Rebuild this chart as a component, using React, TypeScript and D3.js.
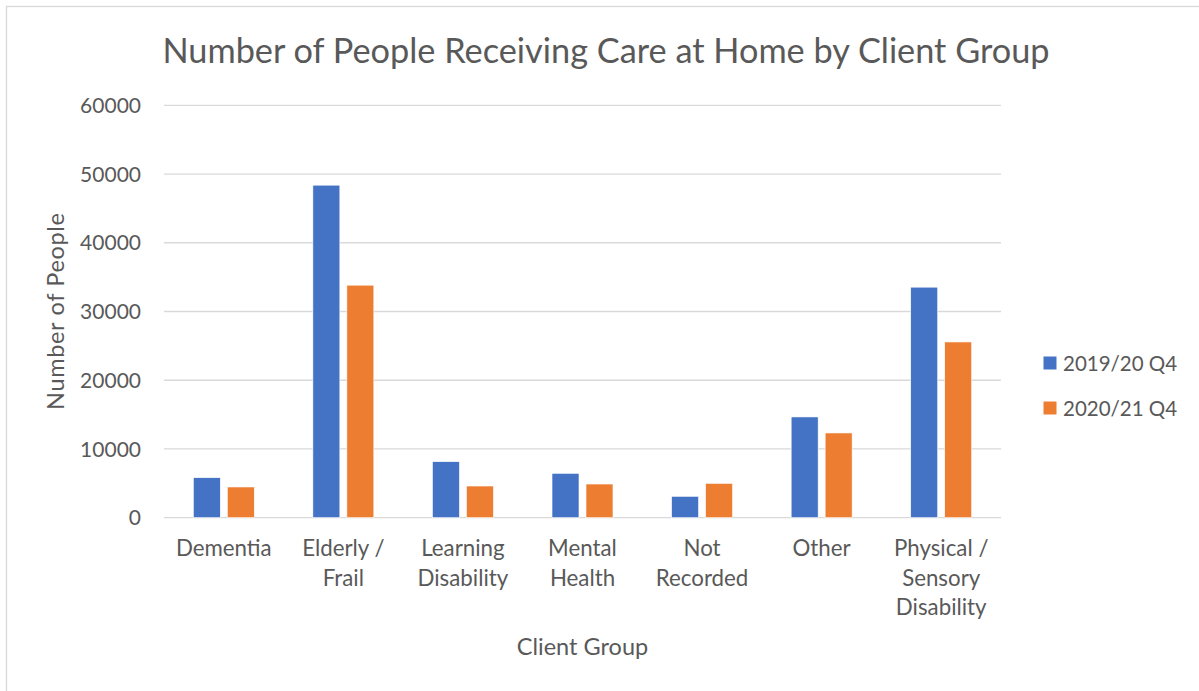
import React from "react";
import * as d3 from "d3";

const categories: string[][] = [
  ["Dementia"],
  ["Elderly /", "Frail"],
  ["Learning", "Disability"],
  ["Mental", "Health"],
  ["Not", "Recorded"],
  ["Other"],
  ["Physical /", "Sensory", "Disability"],
];
const seriesNames = ["2019/20 Q4", "2020/21 Q4"];
const values2019 = [5820, 48380, 8150, 6460, 3110, 14660, 33540];
const values2020 = [4470, 33830, 4610, 4900, 5000, 12330, 25570];
const yTicks = [0, 10000, 20000, 30000, 40000, 50000, 60000];
const colors = ["#4472C4", "#ED7D31"];

const W = 1199;
const H = 691;
const FONT = "Lato, 'Open Sans', sans-serif";
const TEXT = "#595959";
const GRID = "#d9d9d9";

export default function App() {
  const left = 164;
  const right = 1001;
  const y = d3.scaleLinear().domain([0, 60000]).range([517.7, 105.3]);
  const keys = categories.map((c) => c.join(" "));
  const x0 = d3.scaleBand<string>().domain(keys).range([left, right]).padding(0);
  const x1 = d3
    .scaleBand<string>()
    .domain(seriesNames)
    .range([0, x0.bandwidth()])
    .paddingInner(0.206)
    .paddingOuter(0.862);
  const seriesVals = [values2019, values2020];

  return (
    <svg
      width={W}
      height={H}
      style={{ position: "absolute", left: 0, top: 0, background: "#fff" }}
      fontFamily={FONT}
    >
      <rect x={0} y={0} width={W} height={H} fill="#fff" />
      <rect x={6.5} y={6.5} width={1300} height={800} fill="none" stroke={GRID} strokeWidth={1.3} />
      <text x={606} y={63} textAnchor="middle" fontSize={34.3} fill={TEXT}>
        Number of People Receiving Care at Home by Client Group
      </text>
      {yTicks.map((t) => (
        <g key={t}>
          <line x1={left} x2={right} y1={y(t)} y2={y(t)} stroke={GRID} strokeWidth={1.3} />
          <text x={141} y={y(t)} dy="0.36em" textAnchor="end" fontSize={21} fill={TEXT}>
            {t}
          </text>
        </g>
      ))}
      {keys.map((k, i) => (
        <g key={k} transform={`translate(${x0(k)},0)`}>
          {seriesNames.map((s, j) => {
            const v = seriesVals[j][i];
            return (
              <rect
                key={s}
                x={x1(s)}
                y={y(v)}
                width={x1.bandwidth()}
                height={y(0) - y(v)}
                fill={colors[j]}
                stroke="#fff"
                strokeWidth={0.6}
              />
            );
          })}
        </g>
      ))}
      {categories.map((lines, i) => (
        <text
          key={i}
          x={(x0(keys[i]) as number) + x0.bandwidth() / 2}
          textAnchor="middle"
          fontSize={22.3}
          fill={TEXT}
        >
          {lines.map((l, li) => (
            <tspan key={li} x={(x0(keys[i]) as number) + x0.bandwidth() / 2} y={556 + li * 29.6}>
              {l}
            </tspan>
          ))}
        </text>
      ))}
      <text x={(left + right) / 2} y={655} textAnchor="middle" fontSize={23.5} fill={TEXT}>
        Client Group
      </text>
      <text
        transform="translate(64,311.5) rotate(-90)"
        textAnchor="middle"
        fontSize={23.5}
        fill={TEXT}
        textLength={197}
        lengthAdjust="spacing"
      >
        Number of People
      </text>
      {seriesNames.map((s, j) => (
        <g key={s}>
          <rect x={1043.5} y={356.5 + j * 45} width={13} height={13} fill={colors[j]} />
          <text x={1063} y={370.5 + j * 45} fontSize={20.5} fill={TEXT}>
            {s}
          </text>
        </g>
      ))}
    </svg>
  );
}
